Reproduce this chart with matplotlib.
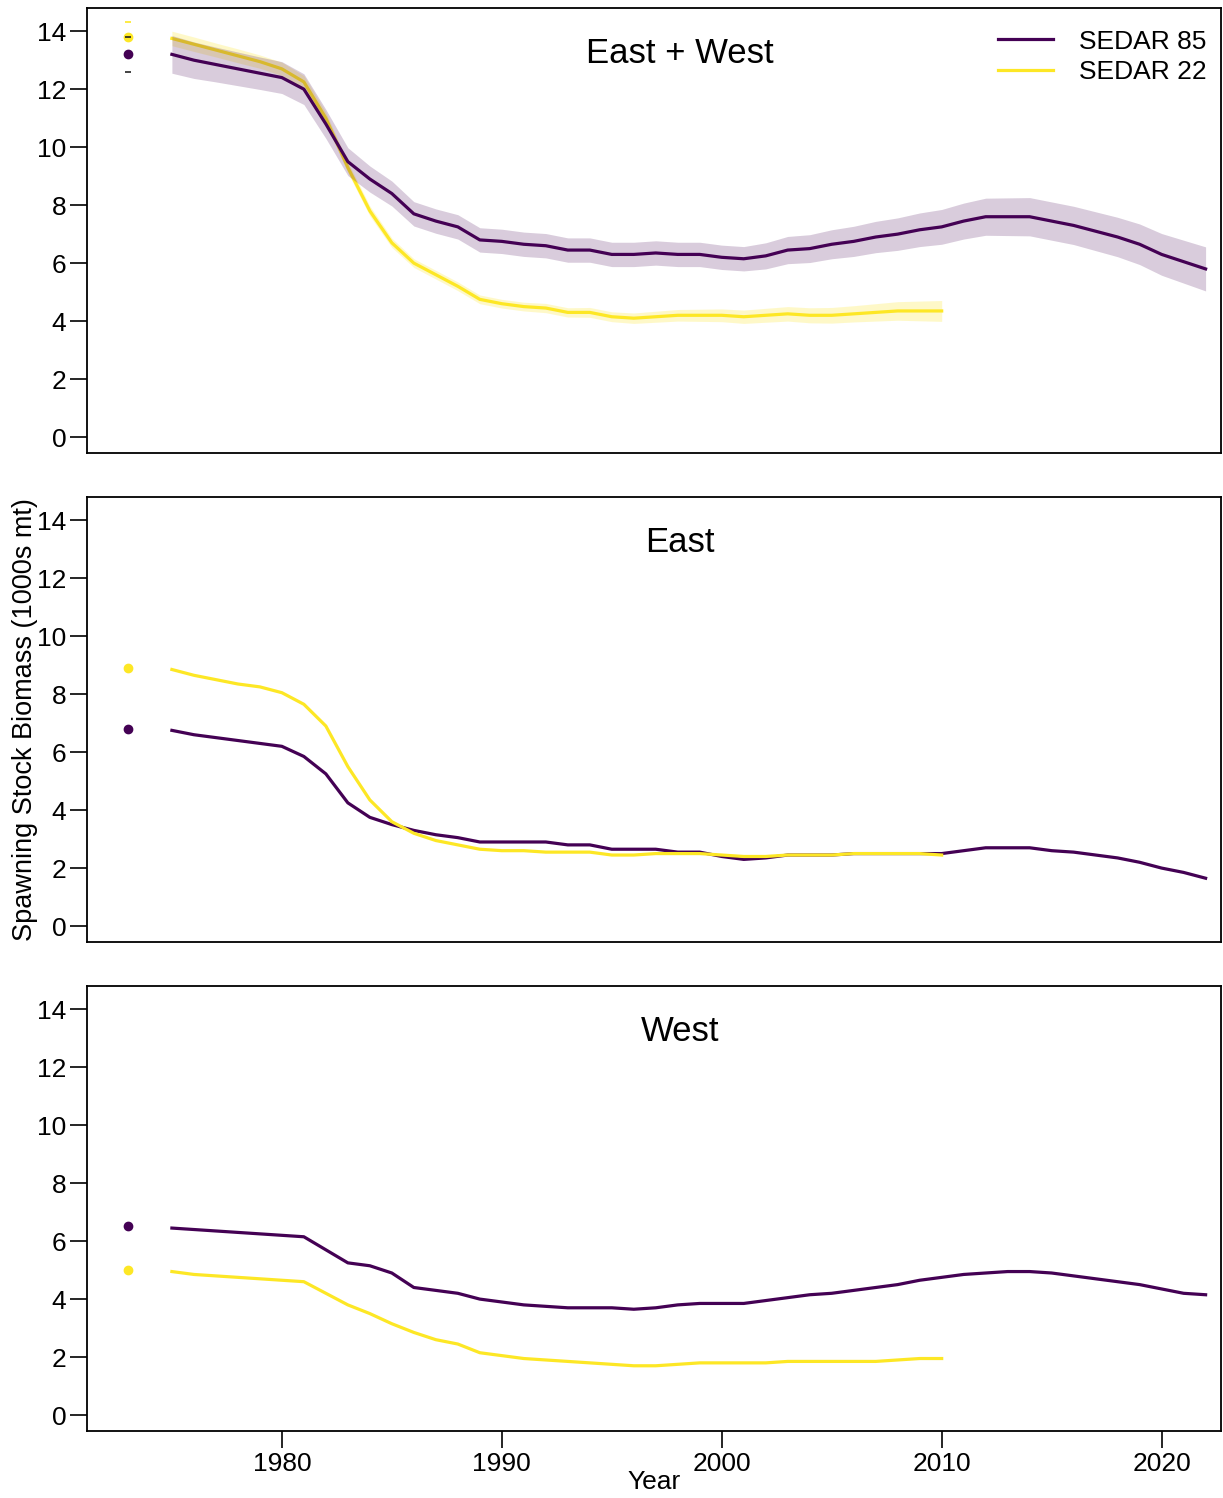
import matplotlib.pyplot as plt
import numpy as np

plt.rcParams['font.family'] = ['Liberation Sans', 'DejaVu Sans']

years = np.arange(1975, 2023)
years22 = np.arange(1975, 2011)
init_year = 1973

purple = '#440154'
yellow = '#FDE725'

# East + West
ew_85 = [13.2, 13.0, 12.85, 12.7, 12.55, 12.4, 12.0, 10.8, 9.5, 8.9, 8.4, 7.7, 7.45, 7.25, 6.8,
         6.75, 6.65, 6.6, 6.45, 6.45, 6.3, 6.3, 6.35, 6.3, 6.3, 6.2, 6.15, 6.25, 6.45, 6.5, 6.65,
         6.75, 6.9, 7.0, 7.15, 7.25, 7.45, 7.6, 7.6, 7.6, 7.45, 7.3, 7.1, 6.9, 6.65, 6.3, 6.05, 5.8]
ew_85_se = [0.65, 0.63, 0.6, 0.58, 0.56, 0.55, 0.53, 0.5, 0.48, 0.45, 0.43, 0.42, 0.42, 0.42, 0.42,
            0.42, 0.42, 0.42, 0.42, 0.42, 0.42, 0.42, 0.42, 0.42, 0.42, 0.42, 0.42, 0.45, 0.47, 0.48, 0.5,
            0.52, 0.54, 0.56, 0.58, 0.6, 0.62, 0.64, 0.65, 0.66, 0.66, 0.66, 0.67, 0.68, 0.7, 0.72, 0.74, 0.76]
ew_22 = [13.75, 13.55, 13.35, 13.15, 12.95, 12.7, 12.25, 11.0, 9.3, 7.8, 6.7, 6.0, 5.6, 5.2, 4.75,
         4.6, 4.5, 4.45, 4.3, 4.3, 4.15, 4.1, 4.15, 4.2, 4.2, 4.2, 4.15, 4.2, 4.25, 4.2, 4.2,
         4.25, 4.3, 4.35, 4.35, 4.35]
ew_22_se = [0.25, 0.25, 0.24, 0.24, 0.23, 0.23, 0.22, 0.2, 0.18, 0.17, 0.16, 0.15, 0.15, 0.15, 0.15,
            0.15, 0.15, 0.16, 0.16, 0.17, 0.17, 0.18, 0.19, 0.2, 0.21, 0.22, 0.23, 0.24, 0.25, 0.26, 0.27,
            0.28, 0.3, 0.32, 0.34, 0.36]
ew_init = {'85': (13.2, 0.6), '22': (13.8, 0.5)}

# East
e_85 = [6.75, 6.6, 6.5, 6.4, 6.3, 6.2, 5.85, 5.25, 4.25, 3.75, 3.5, 3.3, 3.15, 3.05, 2.9,
        2.9, 2.9, 2.9, 2.8, 2.8, 2.65, 2.65, 2.65, 2.55, 2.55, 2.4, 2.3, 2.35, 2.45, 2.45, 2.45,
        2.5, 2.5, 2.5, 2.5, 2.5, 2.6, 2.7, 2.7, 2.7, 2.6, 2.55, 2.45, 2.35, 2.2, 2.0, 1.85, 1.65]
e_22 = [8.85, 8.65, 8.5, 8.35, 8.25, 8.05, 7.65, 6.9, 5.5, 4.35, 3.6, 3.2, 2.95, 2.8, 2.65,
        2.6, 2.6, 2.55, 2.55, 2.55, 2.45, 2.45, 2.5, 2.5, 2.5, 2.45, 2.4, 2.4, 2.45, 2.45, 2.45,
        2.5, 2.5, 2.5, 2.5, 2.45]
e_init = {'85': 6.79, '22': 8.9}

# West
w_85 = [6.45, 6.4, 6.35, 6.3, 6.25, 6.2, 6.15, 5.7, 5.25, 5.15, 4.9, 4.4, 4.3, 4.2, 4.0,
        3.9, 3.8, 3.75, 3.7, 3.7, 3.7, 3.65, 3.7, 3.8, 3.85, 3.85, 3.85, 3.95, 4.05, 4.15, 4.2,
        4.3, 4.4, 4.5, 4.65, 4.75, 4.85, 4.9, 4.95, 4.95, 4.9, 4.8, 4.7, 4.6, 4.5, 4.35, 4.2, 4.15]
w_22 = [4.95, 4.85, 4.8, 4.75, 4.7, 4.65, 4.6, 4.2, 3.8, 3.5, 3.15, 2.85, 2.6, 2.45, 2.15,
        2.05, 1.95, 1.9, 1.85, 1.8, 1.75, 1.7, 1.7, 1.75, 1.8, 1.8, 1.8, 1.8, 1.85, 1.85, 1.85,
        1.85, 1.85, 1.9, 1.95, 1.95]
w_init = {'85': 6.52, '22': 5.0}

fig = plt.figure(figsize=(12.23, 14.98), dpi=100)
L, W, H = 87/1223, 1134/1223, 445/1498
bottoms = [1 - 453/1498, 1 - 942/1498, 1 - 1431/1498]
axes = [fig.add_axes([L, b, W, H]) for b in bottoms]

FS = 19
for ax in axes:
    ax.set_xlim(1971.14, 2022.7)
    ax.set_ylim(-0.55, 14.8)
    ax.set_yticks(range(0, 15, 2))
    ax.tick_params(axis='y', labelsize=FS, length=12, width=1.2, pad=3)
    ax.tick_params(axis='x', labelsize=FS, length=12, width=1.2, pad=3)
    for s in ax.spines.values():
        s.set_linewidth(1.3)

# top panel with bands
ax = axes[0]
lo = np.array(ew_22) - np.array(ew_22_se)
hi = np.array(ew_22) + np.array(ew_22_se)
ax.fill_between(years22, lo, hi, color=yellow, alpha=0.25, lw=0)
ax.plot(years22, ew_22, color=yellow, lw=2.3, label='SEDAR 22', zorder=2)
lo = np.array(ew_85) - np.array(ew_85_se)
hi = np.array(ew_85) + np.array(ew_85_se)
ax.fill_between(years, lo, hi, color=purple, alpha=0.2, lw=0, zorder=3)
ax.plot(years, ew_85, color=purple, lw=2.3, label='SEDAR 85', zorder=4)
ax.plot(init_year, ew_init['85'][0], 'o', color=purple, ms=6)
ax.plot(init_year, ew_init['22'][0], 'o', color=yellow, ms=6)
ax.plot([init_year]*2, [ew_init['85'][0] - ew_init['85'][1], ew_init['85'][0] + ew_init['85'][1]],
        '_', color='#222222', ms=5, mew=1.2, zorder=5)
ax.plot(init_year, ew_init['22'][0] + ew_init['22'][1], '_', color=yellow, ms=5, mew=1.2)
ax.text(0.523, 0.897, 'East + West', transform=ax.transAxes, ha='center', va='center', fontsize=25)
h, lab = ax.get_legend_handles_labels()
ax.legend(h[::-1], lab[::-1], loc='upper right', frameon=False, fontsize=FS, handlelength=2.1,
          borderaxespad=0.0, handletextpad=1.0, labelspacing=0.25, bbox_to_anchor=(0.997, 0.975))
ax.set_xticks([])

ax = axes[1]
ax.plot(years, e_85, color=purple, lw=2.3)
ax.plot(years22, e_22, color=yellow, lw=2.3)
ax.plot(init_year, e_init['85'], 'o', color=purple, ms=6)
ax.plot(init_year, e_init['22'], 'o', color=yellow, ms=6)
ax.text(0.523, 0.897, 'East', transform=ax.transAxes, ha='center', va='center', fontsize=25)
ax.set_xticks([])
ax.set_ylabel('Spawning Stock Biomass (1000s mt)', fontsize=FS + 0.5, labelpad=-1)

ax = axes[2]
ax.plot(years, w_85, color=purple, lw=2.3)
ax.plot(years22, w_22, color=yellow, lw=2.3)
ax.plot(init_year, w_init['85'], 'o', color=purple, ms=6)
ax.plot(init_year, w_init['22'], 'o', color=yellow, ms=6)
ax.text(0.523, 0.897, 'West', transform=ax.transAxes, ha='center', va='center', fontsize=25)
ax.set_xticks([1980, 1990, 2000, 2010, 2020])
ax.set_xlabel('Year', fontsize=FS, labelpad=-4)

fig.savefig('out.png', dpi=100)
